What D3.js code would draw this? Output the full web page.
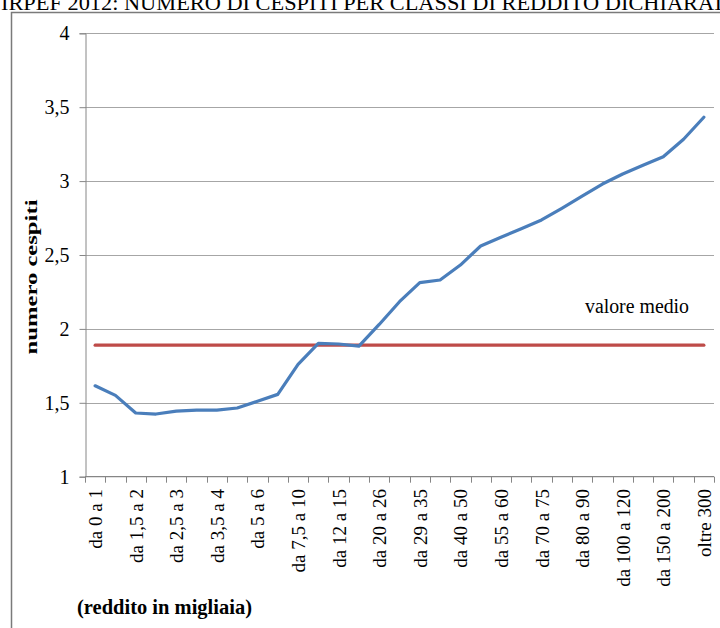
<!DOCTYPE html>
<html>
<head>
<meta charset="utf-8">
<script src="https://cdn.jsdelivr.net/npm/d3@7"></script>
<style>
  html, body { margin: 0; padding: 0; background: #fff; }
  svg { display: block; }
  svg text { font-family: "Liberation Serif", "Times New Roman", Times, serif !important; fill: #000; }
</style>
</head>
<body>
<svg id="chart" width="720" height="628"></svg>
<script>
const categories = ["da 0 a 1","da 1 a 1,5","da 1,5 a 2","da 2 a 2,5","da 2,5 a 3","da 3 a 3,5","da 3,5 a 4","da 4 a 5","da 5 a 6","da 6 a 7,5","da 7,5 a 10","da 10 a 12","da 12 a 15","da 15 a 20","da 20 a 26","da 26 a 29","da 29 a 35","da 35 a 40","da 40 a 50","da 50 a 55","da 55 a 60","da 60 a 70","da 70 a 75","da 75 a 80","da 80 a 90","da 90 a 100","da 100 a 120","da 120 a 150","da 150 a 200","da 200 a 300","oltre 300"];
const cespiti = [1.615,1.55,1.431,1.424,1.444,1.451,1.451,1.465,1.51,1.557,1.76,1.902,1.898,1.883,2.03,2.184,2.313,2.331,2.432,2.561,2.62,2.677,2.737,2.816,2.899,2.98,3.048,3.107,3.165,3.283,3.432];
const valoreMedio = 1.89;
const yTicks = [1,1.5,2,2.5,3,3.5,4];
const titleText = "IRPEF 2012: NUMERO DI CESPITI PER CLASSI DI REDDITO DICHIARATO";
const yLabel = "numero cespiti";
const xLabel = "(reddito in migliaia)";
const meanLabel = "valore medio";

const serif = "'Liberation Serif', 'Times New Roman', Times, serif";
const svg = d3.select("#chart");
const fmt = d3.formatLocale({decimal: ",", thousands: ".", grouping: [3], currency: ["", "€"]}).format("~g");

const x = d3.scaleBand().domain(categories).range([85, 714]).paddingInner(0).paddingOuter(0);
const y = d3.scaleLinear().domain([1, 4]).range([476.7, 33.3]);

// outer frame
svg.append("path").attr("d", "M11.5,628 V12.5 H720").attr("fill", "none")
  .attr("stroke", "#7a7a7a").attr("stroke-width", 1.5);

// title (cropped at top, as in the source)
svg.append("text").attr("x", 1).attr("y", 9.5).attr("font-size", 22).style("font-family", serif)
  .attr("textLength", 740).attr("lengthAdjust", "spacingAndGlyphs")
  .text(titleText);

// gridlines
svg.append("g").selectAll("line").data(yTicks.slice(1)).join("line")
  .attr("x1", 85).attr("x2", 714)
  .attr("y1", d => Math.round(y(d)) + 0.5).attr("y2", d => Math.round(y(d)) + 0.5)
  .attr("stroke", "#a6a6a6").attr("stroke-width", 1);

// y axis
const yAxis = svg.append("g").attr("transform", "translate(85.5,0)")
  .call(d3.axisLeft(y).tickValues(yTicks).tickSize(6).tickPadding(10).tickFormat(d => fmt(d)));
yAxis.attr("font-family", null);
yAxis.select(".domain").attr("stroke", "#868686");
yAxis.selectAll(".tick line").attr("stroke", "#868686");
yAxis.selectAll(".tick text").attr("font-size", 20).style("font-family", serif).attr("fill", "#000");

// x axis line + boundary ticks
const bounds = categories.map(c => x(c)).concat([x.range()[1]]);
const xg = svg.append("g");
xg.append("line").attr("x1", 85).attr("x2", 714).attr("y1", y(1)).attr("y2", y(1))
  .attr("stroke", "#868686").attr("stroke-width", 1.2);
xg.selectAll("line.tk").data(bounds).join("line").attr("class", "tk")
  .attr("x1", d => Math.round(d) + 0.5).attr("x2", d => Math.round(d) + 0.5)
  .attr("y1", y(1)).attr("y2", y(1) + 6).attr("stroke", "#868686");

// x labels (every other category)
xg.selectAll("text").data(categories.filter((c, i) => i % 2 === 0)).join("text")
  .attr("transform", d => `translate(${x(d) + x.bandwidth() / 2 + 7},489) rotate(-90)`)
  .attr("text-anchor", "end").attr("font-size", 19).style("font-family", serif)
  .text(d => d);

// mean line
svg.append("line")
  .attr("x1", x(categories[0]) + x.bandwidth() / 2)
  .attr("x2", x(categories[categories.length - 1]) + x.bandwidth() / 2)
  .attr("y1", y(valoreMedio)).attr("y2", y(valoreMedio))
  .attr("stroke", "#BE4B48").attr("stroke-width", 3.2).attr("stroke-linecap", "round");

// data line
const line = d3.line().x((d, i) => x(categories[i]) + x.bandwidth() / 2).y(d => y(d));
svg.append("path").datum(cespiti).attr("d", line).attr("fill", "none")
  .attr("stroke", "#4A7EBB").attr("stroke-width", 3.2).attr("stroke-linejoin", "round").attr("stroke-linecap", "round");

// labels
svg.append("text").attr("x", 585).attr("y", 313).attr("font-size", 20).style("font-family", serif)
  .attr("textLength", 104).attr("lengthAdjust", "spacingAndGlyphs").text(meanLabel);

svg.append("text").attr("transform", "translate(37,277) rotate(-90)")
  .attr("text-anchor", "middle").attr("font-size", 16).attr("font-weight", "bold").style("font-family", serif)
  .attr("textLength", 155).attr("lengthAdjust", "spacingAndGlyphs")
  .text(yLabel);

svg.append("text").attr("x", 77).attr("y", 614).attr("font-size", 20).attr("font-weight", "bold").style("font-family", serif)
  .attr("textLength", 175).attr("lengthAdjust", "spacingAndGlyphs")
  .text(xLabel);
</script>
</body>
</html>
